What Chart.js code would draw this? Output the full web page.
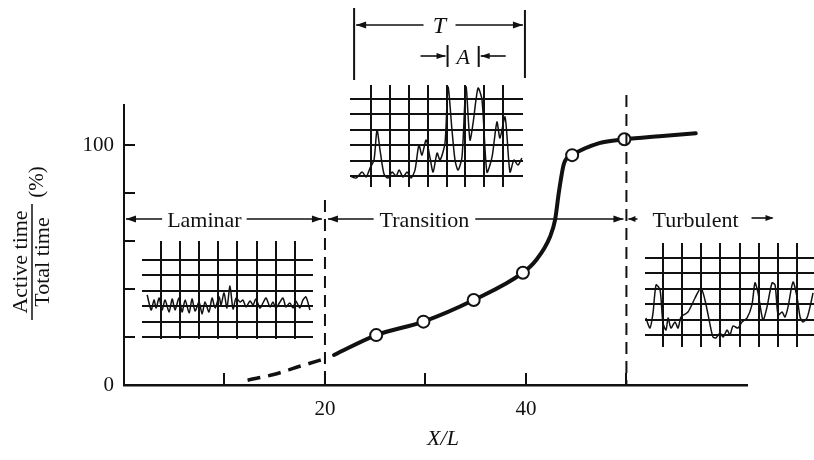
<!DOCTYPE html>
<html>
<head>
<meta charset="utf-8">
<script src="https://cdn.jsdelivr.net/npm/chart.js@4.4.1/dist/chart.umd.min.js"></script>
<style>
  html, body { margin: 0; padding: 0; background: #fff; }
  #wrap { position: relative; width: 814px; height: 460px; overflow: hidden; background: #fff; }
  #wrap canvas { position: absolute; }
</style>
</head>
<body>
<div id="wrap">
  <canvas id="main" width="814" height="460" style="left:0;top:0"></canvas>
  <canvas id="trace-laminar"></canvas>
  <canvas id="trace-transition"></canvas>
  <canvas id="trace-turbulent"></canvas>
</div>
<script>
// Intermittency curve: fraction of time the hot-wire signal is "active"
// vs. distance X/L, with three oscillogram traces for the flow regimes.

const INK = '#111';
const SERIF = '"Liberation Serif", "DejaVu Serif", serif';

// Axis ticks
const xTickLabels = [20, 40];
const yTickLabels = [0, 100];
const xTickMarks = [10, 20, 30, 40, 50];
const yTickMarks = [20, 40, 60, 80, 100];

// Measured points (open circles)
const pointX = [25.1, 29.8, 34.8, 39.7, 44.6, 49.8];
const pointY = [20.8, 26.4, 35.4, 46.8, 95.8, 102.4];

// Faired curve through the measurements
const curveX = [20.9, 25.1, 29.8, 34.8, 39.7, 41.0, 42.4, 42.9, 43.3, 43.8, 44.6, 47.3, 49.8, 53.3, 56.9];
const curveY = [12.5, 20.8, 26.4, 35.4, 46.8, 52.0, 61.8, 68.8, 81.0, 92.5, 95.8, 100.8, 102.4, 103.7, 104.9];

// Extrapolated (dashed) start of the curve
const dashX = [12.3, 15.0, 17.5, 20.3];
const dashY = [2.0, 4.5, 7.8, 11.3];

// Regime boundaries and names
const regimeEdges = [0, 20, 50];
const regimeNames = ['Laminar', 'Transition', 'Turbulent'];

// Oscillogram traces, in grid divisions (time, amplitude)
const laminarT = [0.27, 0.48, 0.63, 0.74, 0.9, 1.05, 1.21, 1.42, 1.58, 1.73, 1.94, 2.1, 2.26, 2.47, 2.62, 2.78, 2.99, 3.15, 3.3, 3.51, 3.67, 3.83, 4.04, 4.14, 4.3, 4.45, 4.61, 4.77, 4.93, 5.14, 5.29, 5.45, 5.66, 5.82, 5.97, 6.18, 6.34, 6.5, 6.71, 6.86, 7.02, 7.23, 7.39, 7.54, 7.75, 7.91, 8.06, 8.27, 8.43, 8.59, 8.8];
const laminarV = [2.73, 1.75, 2.4, 1.88, 2.53, 1.75, 2.4, 1.62, 2.47, 1.75, 2.53, 1.62, 2.4, 1.56, 2.47, 1.69, 2.27, 1.49, 2.27, 1.62, 2.53, 1.88, 2.6, 2.08, 2.86, 1.88, 3.31, 1.82, 2.53, 2.27, 2.4, 1.95, 2.34, 2.08, 2.47, 1.88, 2.21, 2.53, 1.95, 2.27, 1.88, 2.27, 2.53, 1.95, 2.21, 1.88, 2.34, 1.88, 2.4, 2.6, 1.75];

const transitionT = [-0.1, 0.21, 0.53, 0.74, 0.95, 1.16, 1.32, 1.48, 1.69, 1.9, 2.12, 2.33, 2.49, 2.7, 2.91, 3.12, 3.33, 3.54, 3.7, 3.92, 4.13, 4.29, 4.5, 4.66, 4.92, 5.08, 5.29, 5.45, 5.61, 5.82, 6.03, 6.24, 6.4, 6.67, 6.88, 7.14, 7.41, 7.67, 7.83, 8.1, 8.36, 8.57, 8.78, 8.99];
const transitionV = [0, -0.13, 0.26, -0.06, 0.52, 1.04, 2.99, 1.69, 0.13, -0.13, 0.26, 0, 0.39, -0.06, 0.26, -0.13, 0.39, 2.01, 1.36, 2.34, 1.17, 0.26, 1.49, 1.04, 2.14, 5.78, 2.99, 1.04, 0.39, 1.23, 5.8, 2.34, 3.38, 5.71, 4.94, 0.26, 1.23, 3.51, 2.47, 3.83, 0.26, 1.04, 0.71, 1.17];

const turbulentT = [0.1, 0.31, 0.47, 0.63, 0.84, 0.99, 1.15, 1.26, 1.41, 1.62, 1.78, 1.94, 2.3, 2.67, 2.98, 3.19, 3.46, 3.61, 3.77, 3.98, 4.14, 4.35, 4.5, 4.66, 4.92, 5.13, 5.39, 5.65, 5.81, 5.97, 6.23, 6.44, 6.7, 6.86, 7.02, 7.23, 7.38, 7.54, 7.8, 8.01, 8.17, 8.32, 8.53, 8.69, 8.85];
const turbulentV = [1.1, 0.45, 1.43, 3.25, 2.92, 0.78, 0.32, 1.1, 0.45, 0.84, 0.45, 1.17, 1.49, 2.4, 3.05, 2.27, 0.65, -0.13, -0.19, 0.13, -0.13, 0.32, 0, 0.58, 0.45, 0.84, 1.1, 1.95, 3.38, 2.73, 0.97, 1.82, 3.38, 3.25, 1.3, 1.49, 1.17, 1.82, 3.44, 2.47, 1.17, 0.84, 1.1, 1.82, 2.73];

// Where each oscillogram box sits on the page, and its visible window
const traceBoxes = {
  laminar:    { left: 142, top: 241, width: 171, height: 98,  xMin: 0.0,   xMax: 8.96, yMin: -0.13, yMax: 6.23 },
  transition: { left: 350, top: 85,  width: 173, height: 102, xMin: -0.11, xMax: 9.05, yMin: -0.71, yMax: 5.91 },
  turbulent:  { left: 645, top: 243, width: 169, height: 104, xMin: 0.05,  xMax: 8.9,  yMin: -0.78, yMax: 5.97 },
};

const toXY = (xs, ys) => xs.map((x, i) => ({ x, y: ys[i] }));

const arrowHead = (ctx, x, y, dir, len = 10, half = 3.5) => {
  ctx.beginPath();
  ctx.moveTo(x, y);
  ctx.lineTo(x - dir * len, y - half);
  ctx.lineTo(x - dir * len, y + half);
  ctx.closePath();
  ctx.fill();
};

const hLine = (ctx, x1, x2, y) => {
  ctx.beginPath();
  ctx.moveTo(x1, y);
  ctx.lineTo(x2, y);
  ctx.stroke();
};

const vLine = (ctx, x, y1, y2) => {
  ctx.beginPath();
  ctx.moveTo(x, y1);
  ctx.lineTo(x, y2);
  ctx.stroke();
};

// Everything that is not a dataset: inward ticks, regime dividers and
// arrows, the T / A dimension marks and the fraction-style y title.
const annotations = {
  id: 'annotations',
  afterDraw(chart) {
    const { ctx, chartArea: area, scales: { x, y } } = chart;
    ctx.save();
    ctx.strokeStyle = INK;
    ctx.fillStyle = INK;

    ctx.lineWidth = 2;
    ctx.beginPath();
    for (const v of yTickMarks) {
      const py = Math.round(y.getPixelForValue(v));
      ctx.moveTo(area.left, py);
      ctx.lineTo(area.left + 11, py);
    }
    for (const v of xTickMarks) {
      const px = Math.round(x.getPixelForValue(v));
      ctx.moveTo(px, area.bottom);
      ctx.lineTo(px, area.bottom - 12);
    }
    ctx.stroke();

    // dashed regime dividers
    const x20 = x.getPixelForValue(regimeEdges[1]);
    const x50 = x.getPixelForValue(regimeEdges[2]);
    ctx.lineWidth = 2;
    ctx.setLineDash([12, 7]);
    vLine(ctx, x20, 200, area.bottom);
    vLine(ctx, x50, 95, area.bottom);
    ctx.setLineDash([]);

    // regime arrows
    const rowY = Math.round(y.getPixelForValue(69));
    const x0 = x.getPixelForValue(regimeEdges[0]);
    ctx.font = `22px ${SERIF}`;
    ctx.textBaseline = 'alphabetic';
    ctx.textAlign = 'left';
    ctx.lineWidth = 1.6;

    const lamW = ctx.measureText(regimeNames[0]).width;
    const lamL = x.getPixelForValue(8) - lamW / 2;
    ctx.fillText(regimeNames[0], lamL, rowY + 8);
    hLine(ctx, x0 + 2, lamL - 5, rowY);
    arrowHead(ctx, x0 + 2, rowY, -1);
    hLine(ctx, lamL + lamW + 5, x20 - 3, rowY);
    arrowHead(ctx, x20 - 3, rowY, 1);

    const trW = ctx.measureText(regimeNames[1]).width;
    const trL = x.getPixelForValue(29.9) - trW / 2;
    ctx.fillText(regimeNames[1], trL, rowY + 8);
    hLine(ctx, x20 + 3, trL - 6, rowY);
    arrowHead(ctx, x20 + 3, rowY, -1);
    hLine(ctx, trL + trW + 6, x50 - 3, rowY);
    arrowHead(ctx, x50 - 3, rowY, 1);

    const tuL = x.getPixelForValue(52.6);
    const tuW = ctx.measureText(regimeNames[2]).width;
    ctx.fillText(regimeNames[2], tuL, rowY + 8);
    hLine(ctx, x50 + 2, x50 + 11, rowY);
    arrowHead(ctx, x50 + 2, rowY, -1, 7, 3);
    hLine(ctx, tuL + tuW + 13, tuL + tuW + 34, rowY - 1);
    arrowHead(ctx, tuL + tuW + 35, rowY - 1, 1, 8, 3);

    // T: full record length, A: one active burst
    const tL = x.getPixelForValue(22.9);
    const tR = x.getPixelForValue(39.9);
    ctx.lineWidth = 2;
    vLine(ctx, tL, 8, 80);
    vLine(ctx, tR, 10, 78);
    ctx.lineWidth = 1.6;
    const tMid = (tL + tR) / 2;
    hLine(ctx, tL + 2, tMid - 16, 25);
    hLine(ctx, tMid + 16, tR - 2, 25);
    arrowHead(ctx, tL + 2, 25, -1);
    arrowHead(ctx, tR - 2, 25, 1);
    ctx.font = `italic 24px ${SERIF}`;
    ctx.textAlign = 'center';
    ctx.fillText('T', tMid, 33);

    const aL = x.getPixelForValue(32.2);
    const aR = x.getPixelForValue(35.3);
    ctx.lineWidth = 2;
    vLine(ctx, aL, 45, 67);
    vLine(ctx, aR, 46, 67);
    ctx.lineWidth = 1.6;
    hLine(ctx, aL - 27, aL - 2, 56);
    arrowHead(ctx, aL - 2, 56, 1, 9, 3);
    hLine(ctx, aR + 2, aR + 27, 56);
    arrowHead(ctx, aR + 2, 56, -1, 9, 3);
    ctx.font = `italic 22px ${SERIF}`;
    ctx.fillText('A', (aL + aR) / 2, 64);

    // x title
    ctx.fillText('X/L', 443, 445);

    // y title as a stacked fraction, rotated
    ctx.translate(32, 262);
    ctx.rotate(-Math.PI / 2);
    ctx.font = `22px ${SERIF}`;
    ctx.textAlign = 'center';
    ctx.fillText('Active time', 0, -5);
    ctx.fillText('Total time', 0, 17);
    ctx.lineWidth = 1.5;
    hLine(ctx, -58, 58, 0);
    ctx.font = `21px ${SERIF}`;
    ctx.fillText('(%)', 80, 11);

    ctx.restore();
  },
};

new Chart(document.getElementById('main'), {
  type: 'line',
  data: {
    datasets: [
      {
        data: toXY(pointX, pointY),
        showLine: false,
        pointRadius: 6,
        pointBorderWidth: 2,
        pointBackgroundColor: '#fff',
        pointBorderColor: INK,
        order: 0,
      },
      {
        data: toXY(curveX, curveY),
        borderColor: INK,
        borderWidth: 4,
        borderCapStyle: 'round',
        pointRadius: 0,
        cubicInterpolationMode: 'monotone',
        order: 1,
      },
      {
        data: toXY(dashX, dashY),
        borderColor: INK,
        borderWidth: 3.5,
        borderDash: [13, 8],
        pointRadius: 0,
        cubicInterpolationMode: 'monotone',
        order: 1,
      },
    ],
  },
  options: {
    responsive: false,
    animation: false,
    devicePixelRatio: 1,
    layout: { padding: { top: 105, right: 67, left: 0, bottom: 0 } },
    plugins: { legend: { display: false }, tooltip: { enabled: false } },
    scales: {
      x: {
        type: 'linear',
        min: 0,
        max: 62,
        afterBuildTicks: s => { s.ticks = xTickLabels.map(value => ({ value })); },
        afterFit: s => { s.height = 75; },
        grid: { display: false, drawTicks: false },
        border: { display: true, color: INK, width: 2.5 },
        ticks: { color: INK, font: { family: SERIF, size: 21 }, padding: 12, maxRotation: 0 },
      },
      y: {
        type: 'linear',
        min: 0,
        max: 116.7,
        afterBuildTicks: s => { s.ticks = yTickLabels.map(value => ({ value })); },
        afterFit: s => { s.width = 124; },
        grid: { display: false, drawTicks: false },
        border: { display: true, color: INK, width: 2 },
        ticks: { color: INK, font: { family: SERIF, size: 21 }, padding: 10 },
      },
    },
  },
  plugins: [annotations],
});

// One small chart per oscillogram: the recorder grid is the chart grid,
// the signal is a single line dataset.
function traceChart(id, t, v, box) {
  const canvas = document.getElementById(id);
  canvas.width = box.width;
  canvas.height = box.height;
  Object.assign(canvas.style, { left: `${box.left}px`, top: `${box.top}px` });
  const axis = (min, max, marks, fitKey) => ({
    type: 'linear',
    min,
    max,
    afterBuildTicks: s => { s.ticks = marks.map(value => ({ value })); },
    afterFit: s => { s[fitKey] = 0; },
    grid: { color: INK, lineWidth: 2, drawTicks: false },
    border: { display: false },
    ticks: { display: false },
  });
  return new Chart(canvas, {
    type: 'line',
    data: {
      datasets: [{
        data: toXY(t, v),
        borderColor: INK,
        borderWidth: 1.5,
        pointRadius: 0,
        tension: 0.25,
      }],
    },
    options: {
      responsive: false,
      animation: false,
      devicePixelRatio: 1,
      layout: { padding: 0 },
      plugins: { legend: { display: false }, tooltip: { enabled: false } },
      scales: {
        x: axis(box.xMin, box.xMax, [1, 2, 3, 4, 5, 6, 7, 8], 'height'),
        y: axis(box.yMin, box.yMax, [0, 1, 2, 3, 4, 5], 'width'),
      },
    },
  });
}

traceChart('trace-laminar', laminarT, laminarV, traceBoxes.laminar);
traceChart('trace-transition', transitionT, transitionV, traceBoxes.transition);
traceChart('trace-turbulent', turbulentT, turbulentV, traceBoxes.turbulent);
</script>
</body>
</html>
